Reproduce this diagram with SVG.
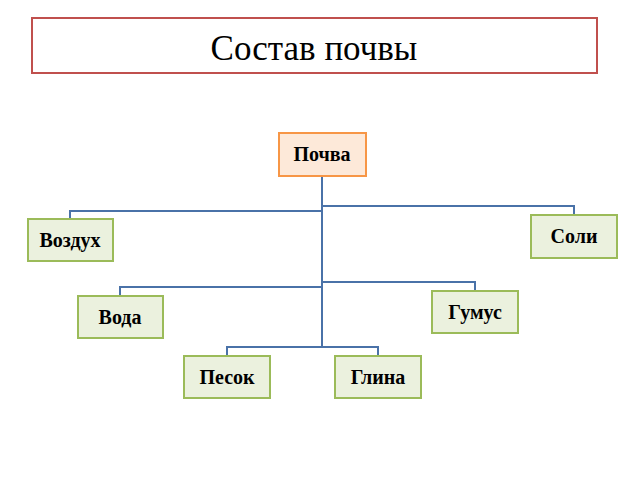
<svg xmlns="http://www.w3.org/2000/svg" width="640" height="480" viewBox="0 0 640 480">
<style>
.g{fill:#ebf1de;stroke:#9bbb59;stroke-width:2}
.t{font-family:"Liberation Serif",serif;font-weight:bold;font-size:20px;text-anchor:middle;fill:#000}
.c{fill:none;stroke:#4a72a8;stroke-width:2}
</style>
<rect width="640" height="480" fill="#fff"/>
<g id="title"><rect x="32" y="18" width="565" height="55" fill="#fff" stroke="#c0504d" stroke-width="2"/>
<text x="314" y="60" font-family="Liberation Serif,serif" font-size="35" text-anchor="middle">Состав почвы</text></g>
<g id="connectors">
<path class="c" d="M322 176V347M322 211H70V219M322 206H574V215M322 287H120V296M322 282H475V291M227 356V347H378V356"/>
</g>
<g id="pochva"><rect x="279" y="133" width="87" height="43" fill="#fde9d9" stroke="#f79646" stroke-width="2"/><text class="t" x="322" y="161">Почва</text></g>
<g id="vozdukh"><rect class="g" x="28" y="219" width="85" height="42"/><text class="t" x="70" y="247">Воздух</text></g>
<g id="soli"><rect class="g" x="531" y="215" width="86" height="43"/><text class="t" x="574" y="243">Соли</text></g>
<g id="voda"><rect class="g" x="78" y="296" width="85" height="42"/><text class="t" x="120" y="324">Вода</text></g>
<g id="gumus"><rect class="g" x="432" y="291" width="86" height="42"/><text class="t" x="475" y="319">Гумус</text></g>
<g id="pesok"><rect class="g" x="184" y="356" width="86" height="42"/><text class="t" x="227" y="384">Песок</text></g>
<g id="glina"><rect class="g" x="335" y="356" width="86" height="42"/><text class="t" x="378" y="384">Глина</text></g>
</svg>
